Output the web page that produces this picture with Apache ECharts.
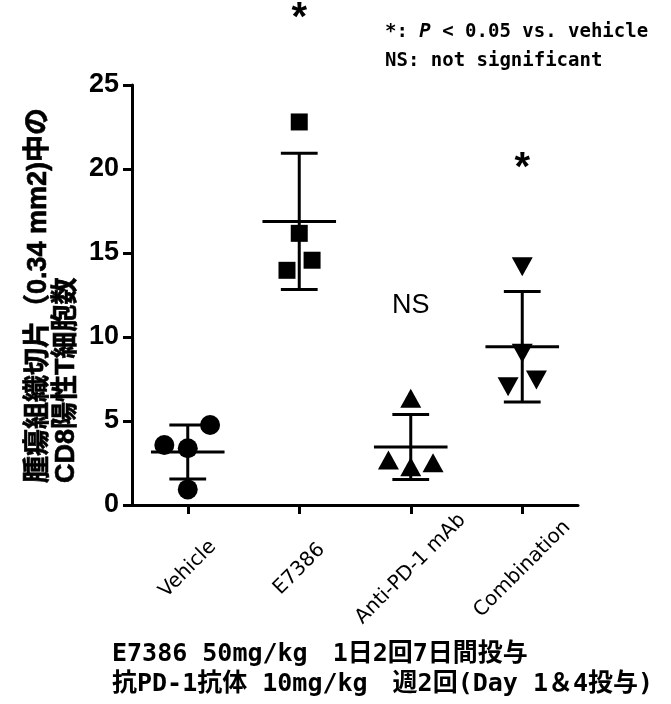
<!DOCTYPE html>
<html><head><meta charset="utf-8">
<script src="https://cdn.jsdelivr.net/npm/echarts@6/dist/echarts.min.js"></script>
<style>html,body{margin:0;padding:0;background:#fff}#c{width:671px;height:704px}</style>
</head><body><div id="c"></div>
<script>
const categories = ['Vehicle', 'E7386', 'Anti-PD-1 mAb', 'Combination'];
const vehicle = [3.57, 3.38, 4.76, 0.93];
const e7386 = [22.80, 16.17, 14.57, 13.97];
const antiPD1 = [6.35, 2.68, 2.28, 2.52];
const combination = [14.18, 9.03, 7.04, 7.44];
const jitterVehicle = [-0.21, 0, 0.2, 0];
const jitterE7386 = [0, 0, 0.115, -0.11];
const jitterAnti = [0, -0.2, 0, 0.2];
const jitterCombination = [0, 0, -0.127, 0.127];
const categoryTicks = [1, 2, 3, 4];
const sigMarks = ['', '*', 'NS', '*'];
const sigY = [null, 29.5, 11.9, 20.6];
const legendLines = ['*: P < 0.05 vs. vehicle', 'NS: not significant'];
const yTitle = ['腫瘍組織切片（0.34 mm2)中の', 'CD8陽性T細胞数'];
const footnotes = ['E7386 50mg/kg　1日2回7日間投与', '抗PD-1抗体 10mg/kg　週2回(Day 1＆4投与)'];

const groups = [vehicle, e7386, antiPD1, combination];
const jitters = [jitterVehicle, jitterE7386, jitterAnti, jitterCombination];
const symbols = ['circle', 'rect', 'triangle', 'triangle'];
const symbolSizes = [20, 17, [21, 19], [21, 19]];
const symbolRotates = [0, 0, 0, 180];

function mean(a) { return a.reduce((s, v) => s + v, 0) / a.length; }
function sd(a) { const m = mean(a); return Math.sqrt(a.reduce((s, v) => s + (v - m) * (v - m), 0) / (a.length - 1)); }
const summary = groups.map((g, i) => [categoryTicks[i], mean(g), sd(g)]);

const chart = echarts.init(document.getElementById('c'), null, { renderer: 'canvas' });
const axisColor = '#000';

const scatterSeries = groups.map((g, i) => ({
  type: 'scatter',
  name: categories[i],
  symbol: symbols[i],
  symbolSize: symbolSizes[i],
  symbolRotate: symbolRotates[i],
  itemStyle: { color: '#000', opacity: 1 },
  data: g.map((v, k) => [categoryTicks[i] + jitters[i][k], v]),
  z: 3,
  silent: true
}));

const option = {
  animation: false,
  backgroundColor: '#fff',
  grid: { left: 132, right: 93, top: 85, bottom: 199, outerBoundsMode: 'none', containLabel: false },
  xAxis: {
    type: 'value', min: 0.5, max: 4.5,
    axisLine: { show: true, onZero: false, lineStyle: { color: axisColor, width: 3 } },
    axisTick: { show: true, customValues: categoryTicks, length: 9, lineStyle: { color: axisColor, width: 3 } },
    axisLabel: {
      customValues: categoryTicks,
      formatter: v => categories[Math.round(v) - 1] || '',
      rotate: 45, align: 'center', verticalAlign: 'middle', margin: 64,
      color: '#000', fontSize: 20, fontFamily: '"DejaVu Sans", sans-serif'
    },
    splitLine: { show: false }
  },
  yAxis: {
    type: 'value', min: 0, max: 25, interval: 5,
    axisLine: { show: true, onZero: false, lineStyle: { color: axisColor, width: 3 } },
    axisTick: { show: true, length: 9, lineStyle: { color: axisColor, width: 3 } },
    axisLabel: { color: '#000', fontSize: 27, fontWeight: 'bold', fontFamily: '"Liberation Sans", Arial, sans-serif', margin: 13 },
    splitLine: { show: false }
  },
  series: [{
    type: 'custom',
    silent: true,
    z: 2,
    data: summary,
    renderItem: (params, api) => {
      const x = api.value(0), m = api.value(1), s = api.value(2);
      const st = { stroke: '#000', lineWidth: 3, lineCap: 'butt' };
      const seg = (a, b) => ({ type: 'line', shape: { x1: a[0], y1: a[1], x2: b[0], y2: b[1] }, style: st });
      return {
        type: 'group',
        children: [
          seg(api.coord([x - 0.33, m]), api.coord([x + 0.33, m])),
          seg(api.coord([x, m - s]), api.coord([x, m + s])),
          seg(api.coord([x - 0.165, m + s]), api.coord([x + 0.165, m + s])),
          seg(api.coord([x - 0.165, m - s]), api.coord([x + 0.165, m - s]))
        ]
      };
    }
  }].concat(scatterSeries)
};
chart.setOption(option);

const monoFamily = '"DejaVu Sans Mono", "Noto Sans CJK JP", monospace';
const titleFamily = '"Liberation Sans", "Noto Sans CJK JP", sans-serif';
const graphics = [];
// y-axis title (two lines, rotated)
yTitle.forEach((t, i) => {
  graphics.push({
    type: 'text', x: 39 + i * 28, y: 483, rotation: Math.PI / 2,
    style: { text: t, fontSize: 27, fontWeight: 'bold', fontFamily: titleFamily, fill: '#000', stroke: '#000', lineWidth: 0.6, align: 'left', verticalAlign: 'middle' }
  });
});
// significance marks
sigMarks.forEach((t, i) => {
  if (!t) return;
  const p = chart.convertToPixel({ gridIndex: 0 }, [categoryTicks[i], sigY[i]]);
  const isStar = t === '*';
  graphics.push({
    type: 'text', x: p[0], y: p[1] + (isStar ? 10 : 0),
    style: {
      text: t,
      fontSize: isStar ? 40 : 27, fontWeight: isStar ? 'bold' : 'normal',
      fontFamily: '"Liberation Sans", sans-serif',
      fill: '#000', align: 'center', verticalAlign: 'middle'
    }
  });
});
// legend note
graphics.push({
  type: 'text', x: 385, y: 32,
  style: {
    text: '{a|*: }{i|P}{a|' + legendLines[0].slice(4) + '}',
    fill: '#000', align: 'left', verticalAlign: 'middle',
    rich: {
      a: { fontSize: 19, fontWeight: 'bold', fontFamily: monoFamily, fill: '#000' },
      i: { fontSize: 19, fontWeight: 'bold', fontStyle: 'italic', fontFamily: monoFamily, fill: '#000' }
    }
  }
});
graphics.push({ type: 'text', x: 385, y: 61, style: { text: legendLines[1], fontSize: 19, fontWeight: 'bold', fontFamily: monoFamily, fill: '#000', align: 'left', verticalAlign: 'middle' } });
// footnotes
footnotes.forEach((t, i) => {
  graphics.push({ type: 'text', x: 112, y: 654 + i * 30, style: { text: t, fontSize: 25, fontWeight: 'bold', fontFamily: monoFamily, fill: '#000', align: 'left', verticalAlign: 'middle' } });
});

chart.setOption({ graphic: graphics });
</script>
</body></html>
